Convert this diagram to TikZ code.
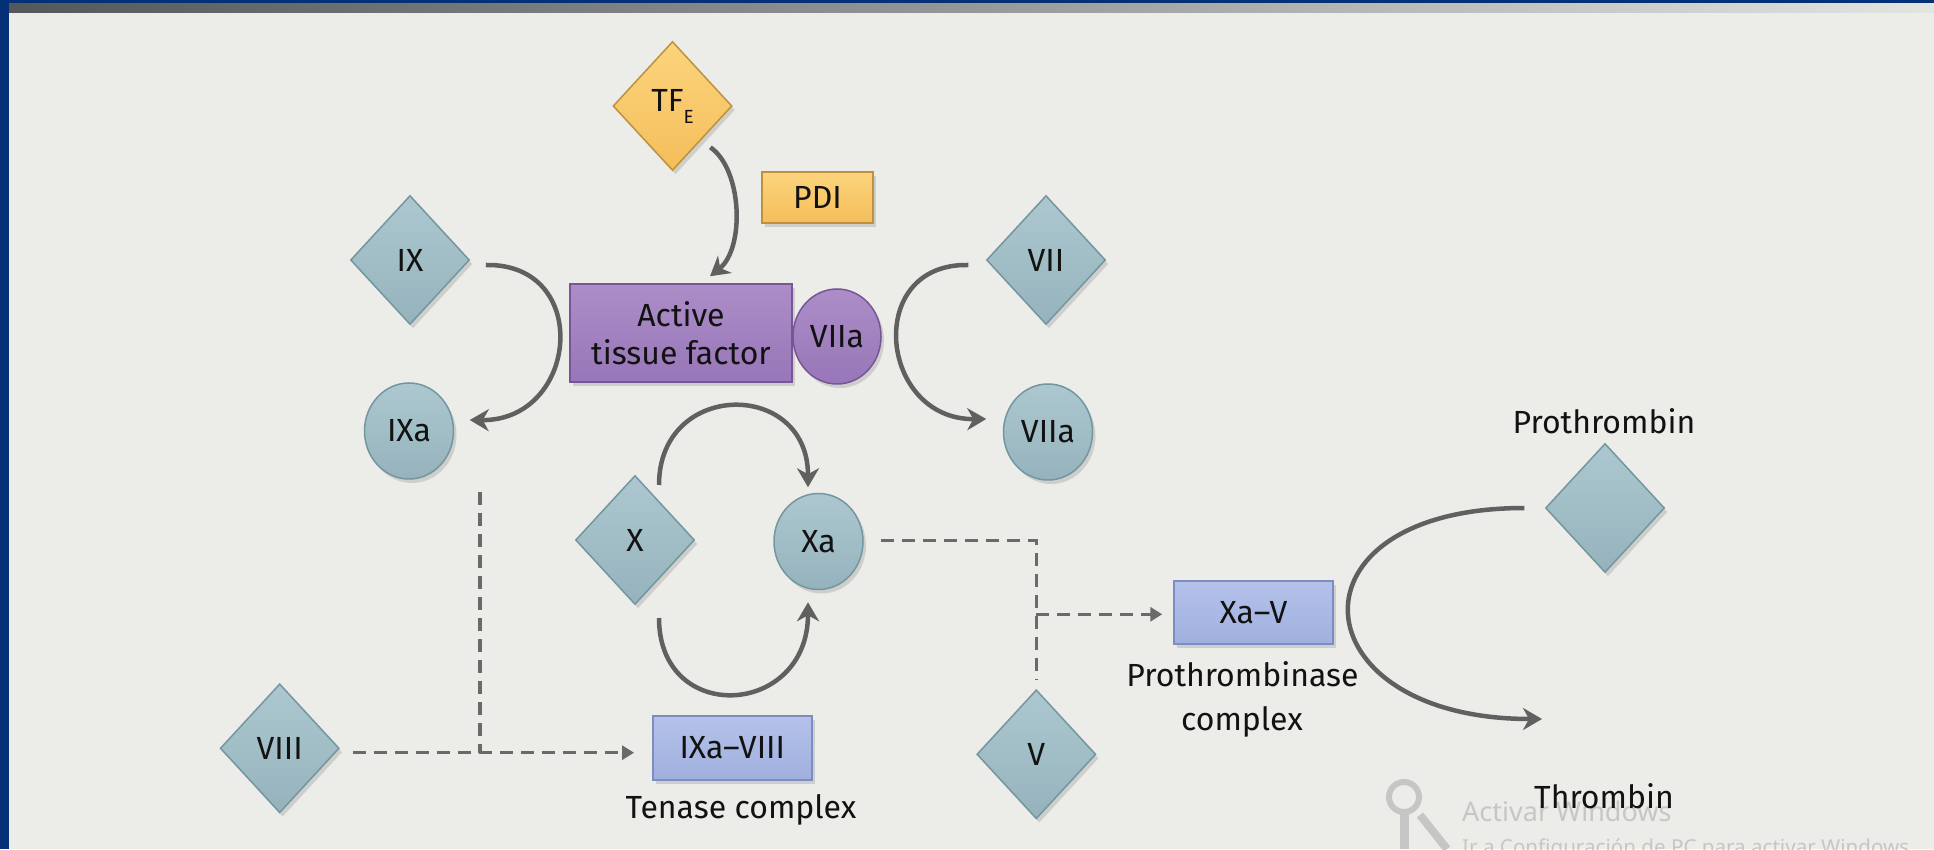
\documentclass[tikz,border=0pt]{standalone}
\usepackage{fontspec}
\setmainfont{Fira Sans}
\newfontfamily\wmfont{Noto Sans}
\usetikzlibrary{shapes.geometric,arrows.meta,shadows,calc}
\definecolor{bg}{RGB}{236,237,232}
\definecolor{navy}{RGB}{3,48,119}
\definecolor{topl}{RGB}{84,88,90}
\definecolor{topm}{RGB}{150,152,152}
\definecolor{topr}{RGB}{228,229,225}
\definecolor{tealt}{RGB}{172,199,207}
\definecolor{tealb}{RGB}{150,179,189}
\definecolor{teald}{RGB}{115,150,160}
\definecolor{purt}{RGB}{172,141,200}
\definecolor{purb}{RGB}{152,118,184}
\definecolor{purd}{RGB}{118,86,150}
\definecolor{yelt}{RGB}{252,212,125}
\definecolor{yelb}{RGB}{244,190,90}
\definecolor{yeld}{RGB}{190,146,60}
\definecolor{blut}{RGB}{180,194,234}
\definecolor{blub}{RGB}{160,176,222}
\definecolor{blud}{RGB}{125,140,195}
\definecolor{arrc}{RGB}{96,96,96}
\definecolor{dashc}{RGB}{106,106,106}
\definecolor{wm}{RGB}{198,198,198}
\definecolor{txt}{RGB}{18,18,18}
\begin{document}
\begin{tikzpicture}[x=1pt,y=1pt,
  lbl/.style={font=\fontsize{32}{38}\selectfont, text=txt},
  sh/.style={drop shadow={shadow xshift=3pt,shadow yshift=-4pt,opacity=0.22,fill=black!60}},
  tdia/.style={diamond,inner sep=0pt,minimum width=119pt,minimum height=129pt,top color=tealt,bottom color=tealb,draw=teald,line width=1.5pt,sh,lbl},
  tell/.style={ellipse,inner sep=0pt,minimum width=89pt,minimum height=96pt,top color=tealt,bottom color=tealb,draw=teald,line width=1.5pt,sh,lbl},
  cplx/.style={rectangle,inner sep=0pt,minimum width=159pt,minimum height=63pt,top color=blut,bottom color=blub,draw=blud,line width=1.5pt,sh,lbl},
  arr/.style={draw=arrc,line width=4.5pt,-{Stealth[length=19pt,width=22pt,inset=6pt]}},
  dsh/.style={draw=dashc,line width=3.5pt,dash pattern=on 13pt off 8pt},
  dtip/.style={-{Triangle[length=12pt,width=14pt]}},
]
\useasboundingbox (0,0) rectangle (1934,849);
\fill[bg] (0,0) rectangle (1934,849);
\shade[left color=topl,right color=topr,middle color=topm] (9,836) rectangle (1934,846);
\fill[navy] (0,846) rectangle (1934,849);
\fill[navy] (0,0) rectangle (9,849);

% nodes
\node[tdia,top color=yelt,bottom color=yelb,draw=yeld] (tf) at (672.5,743) {TF\raisebox{-12pt}{\fontsize{19}{19}\selectfont E}};
\node[rectangle,inner sep=0pt,minimum width=111pt,minimum height=51pt,top color=yelt,bottom color=yelb,draw=yeld,line width=1.5pt,sh,lbl] (pdi) at (817.5,651.5) {PDI};
\node[rectangle,inner sep=0pt,minimum width=222pt,minimum height=98pt,top color=purt,bottom color=purb,draw=purd,line width=1.5pt,sh,lbl,align=center] (atf) at (681,516) {Active\\tissue factor};
\node[ellipse,inner sep=0pt,minimum width=88pt,minimum height=95pt,top color=purt,bottom color=purb,draw=purd,line width=1.5pt,sh,lbl] (v7p) at (837,512.5) {VIIa};
\node[tdia] (ix) at (410,589) {IX};
\node[tdia] (vii) at (1046,589) {VII};
\node[tell] (ixa) at (409,418) {IXa};
\node[tell] (viia) at (1048,417) {VIIa};
\node[tdia] (x) at (635,309) {X};
\node[tell] (xa) at (818.5,307.5) {Xa};
\node[tdia] (pro) at (1605,341) {};
\node[tdia] (viii) at (279.7,100.7) {VIII};
\node[cplx,minimum height=64pt] (ten) at (732.3,101) {IXa–VIII};
\node[tdia] (v) at (1036.3,94.7) {V};
\node[cplx] (xav) at (1253.5,236.5) {Xa–V};

% labels
\node[lbl,anchor=base] (lpro) at (1604,415.7) {Prothrombin};
\node[lbl,anchor=base] (lten) at (741,30.7) {Tenase complex};
\node[lbl,anchor=base] (lpx1) at (1242.5,162.3) {Prothrombinase};
\node[lbl,anchor=base] (lpx2) at (1242,118.3) {complex};

% solid arrows
\draw[arr] ([shift={(7.75,-8.75)}]tf.south east) .. controls +(32,-22) and +(35,28) .. ([shift={(29,7)}]atf.north);
\draw[arr] ([shift={(15.5,-5)}]ix.east) .. controls +(107,2) and +(109,-1) .. ([shift={(15.5,11)}]ixa.east);
\draw[arr] ([shift={(-17.5,-5)}]vii.west) .. controls +(-105,2) and +(-107,-1) .. ([shift={(-16.5,13)}]viia.west);
\draw[arr] ([shift={(24,55)}]x.center) .. controls +(0,105) and +(0,108) .. ([shift={(-10.5,5.5)}]xa.north);
\draw[arr] ([shift={(24,-78)}]x.center) .. controls +(0,-108) and +(0,-115) .. ([shift={(-10.5,-12)}]xa.south);
\coordinate (thr) at (1542,130);
\draw[arr] ([xshift=-20.5]pro.west) .. controls +(-245,0) and +(-245,0) .. (thr);

% dashed connectors
\coordinate (j1) at (480,96.3);
\draw[dsh] ([shift={(71,-61)}]ixa.center) -- (j1);
\draw[dsh,dtip] ([shift={(13,-4.4)}]viii.east) -- ([shift={(-18,-4.7)}]ten.west);
\draw[dsh] ([shift={(17,0.8)}]xa.east) -| ([yshift=9.3]v.north);
\coordinate (br) at (v.north |- xav.west);
\draw[dsh,dtip] ([yshift=-1.8]br) -- ([shift={(-11,-1.8)}]xav.west);

% watermark
\draw[wm,line width=6pt] (1404,52) circle (15);
\fill[wm] (1399.5,37) rectangle (1408.5,0);
\draw[wm,line width=8pt] (1420,34) -- (1447,0);
\node[font=\wmfont\fontsize{27}{27}\selectfont,text=wm,anchor=base west,inner sep=0pt] (wm1) at (1462,27.3) {Activar Windows};
\node[font=\wmfont\fontsize{20.6}{20.6}\selectfont,text=wm,anchor=base west,inner sep=0pt] (wm2) at (1462,-5.7) {Ir a Configuración de PC para activar Windows};
\node[lbl,anchor=base] (lthr) at (1604,41) {Thrombin};
\end{tikzpicture}
\end{document}
